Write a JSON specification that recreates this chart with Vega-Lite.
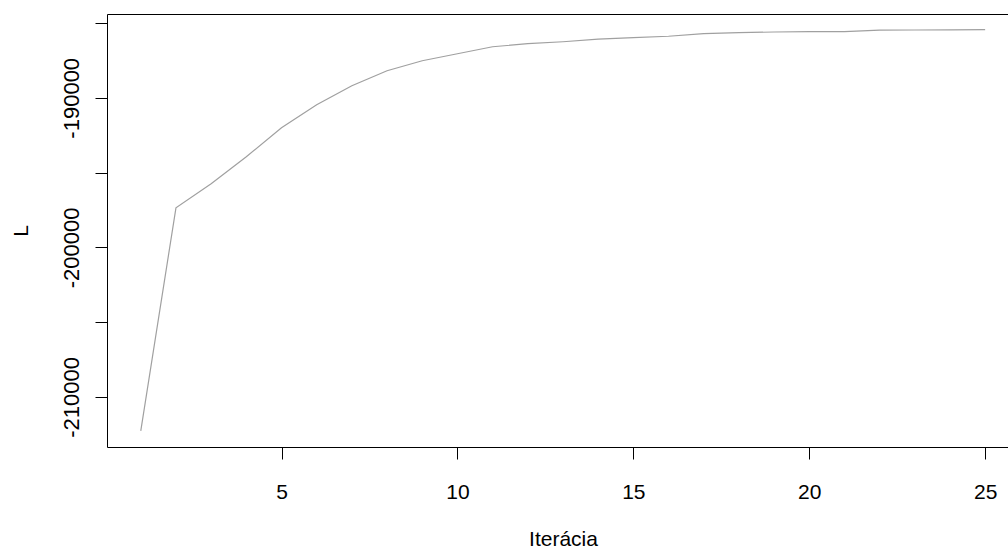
{
  "$schema": "https://vega.github.io/schema/vega-lite/v6.json",
  "width": 901,
  "height": 433,
  "autosize": {"type": "none"},
  "padding": {"left": 107, "top": 14, "right": 0, "bottom": 102},
  "background": "white",
  "config": {
    "view": {"stroke": null},
    "axis": {
      "domainColor": "black",
      "domainWidth": 1,
      "tickColor": "black",
      "tickWidth": 1,
      "tickSize": 12,
      "grid": false,
      "labelFont": "Liberation Sans",
      "labelColor": "black",
      "titleFont": "Liberation Sans",
      "titleColor": "black",
      "titleFontWeight": "normal"
    }
  },
  "data": {
    "values": [
      {"it": 1, "L": -212278},
      {"it": 2, "L": -197359},
      {"it": 3, "L": -195753},
      {"it": 4, "L": -193947},
      {"it": 5, "L": -192007},
      {"it": 6, "L": -190468},
      {"it": 7, "L": -189197},
      {"it": 8, "L": -188194},
      {"it": 9, "L": -187525},
      {"it": 10, "L": -187056},
      {"it": 11, "L": -186588},
      {"it": 12, "L": -186387},
      {"it": 13, "L": -186254},
      {"it": 14, "L": -186086},
      {"it": 15, "L": -185986},
      {"it": 16, "L": -185886},
      {"it": 17, "L": -185718},
      {"it": 18, "L": -185651},
      {"it": 19, "L": -185605},
      {"it": 20, "L": -185584},
      {"it": 21, "L": -185584},
      {"it": 22, "L": -185484},
      {"it": 23, "L": -185470},
      {"it": 24, "L": -185460},
      {"it": 25, "L": -185451}
    ]
  },
  "layer": [
    {
      "mark": {"type": "line", "color": "#a0a0a0", "strokeWidth": 1.2, "clip": true},
      "encoding": {
        "x": {
          "field": "it",
          "type": "quantitative",
          "scale": {"domain": [0.04, 25.65], "nice": false, "zero": false},
          "axis": {
            "orient": "bottom",
            "values": [5, 10, 15, 20, 25],
            "format": "d",
            "labelFontSize": 21,
            "labelBaseline": "alphabetic",
            "labelPadding": 39,
            "labelFlush": false,
            "labelOverlap": false,
            "title": "Iterácia",
            "titleFontSize": 21,
            "titleBaseline": "alphabetic",
            "titleAlign": "center",
            "titleX": 456,
            "titleY": 98
          }
        },
        "y": {
          "field": "L",
          "type": "quantitative",
          "scale": {"domain": [-213350, -184400], "nice": false, "zero": false},
          "axis": {
            "orient": "left",
            "values": [-210000, -205000, -200000, -195000, -190000, -185000],
            "labelExpr": "datum.value % 10000 == 0 ? '' + datum.value : ''",
            "labelAngle": -90,
            "labelAlign": "center",
            "labelBaseline": "alphabetic",
            "labelFontSize": 22,
            "labelPadding": 17,
            "labelFlush": false,
            "labelOverlap": false,
            "title": "L",
            "titleFontSize": 21,
            "titleAngle": -90,
            "titleAlign": "center",
            "titleBaseline": "alphabetic",
            "titleX": -80,
            "titleY": 216.5
          }
        }
      }
    },
    {
      "mark": {"type": "line", "strokeOpacity": 0},
      "encoding": {
        "x": {
          "field": "it",
          "type": "quantitative",
          "axis": {
            "orient": "top",
            "labels": false,
            "ticks": false,
            "title": null,
            "domain": true
          }
        },
        "y": {"field": "L", "type": "quantitative"}
      }
    }
  ],
  "resolve": {"axis": {"x": "independent"}}
}
